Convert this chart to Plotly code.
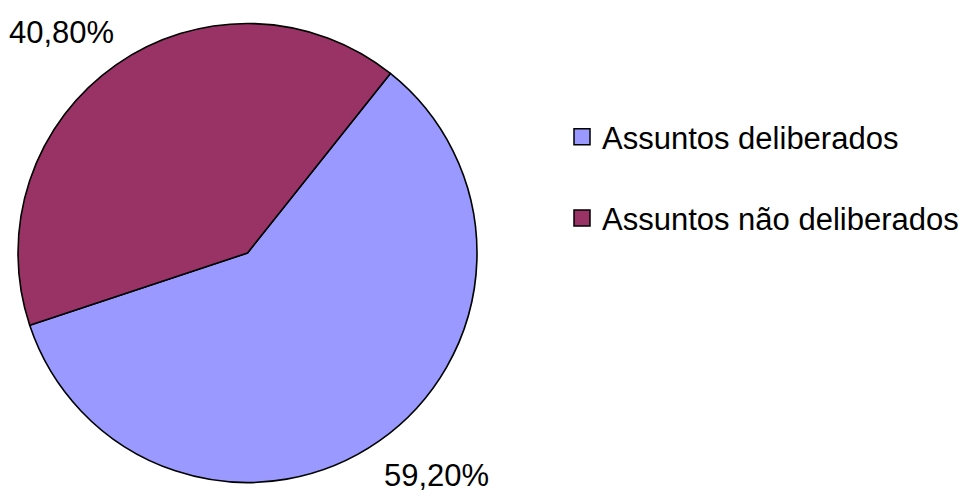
import plotly.graph_objects as go

labels = ["Assuntos deliberados", "Assuntos não deliberados"]
values = [59.2, 40.8]
colors = ["#9999FF", "#993366"]
label_pos = [(436.5, 475.5), (61, 32)]  # pixel centres of the percentage labels

W, H = 964, 491
FONT = "Liberation Sans, Arial, sans-serif"

fig = go.Figure()
fig.add_trace(go.Pie(
    labels=labels, values=values, sort=False, direction="clockwise",
    rotation=38.5,
    marker=dict(colors=colors, line=dict(color="black", width=1.6)),
    textinfo="none", hoverinfo="skip", showlegend=False,
    domain=dict(x=[18 / W, 477 / W], y=[(H - 482.5) / H, (H - 23.5) / H]),
))

for i, (lab, col) in enumerate(zip(labels, colors)):
    fig.add_trace(go.Scatter(
        x=[None], y=[None], mode="markers", name=lab, legendgroup=str(i),
        marker=dict(symbol="square", size=16, color=col, line=dict(color="black", width=1.5)),
        hoverinfo="skip",
    ))

for v, (px, py) in zip(values, label_pos):
    fig.add_annotation(
        x=px / W, y=1 - py / H, xref="paper", yref="paper",
        text=f"{v:.2f}%".replace(".", ","), showarrow=False,
        font=dict(family=FONT, size=31, color="black"),
        xanchor="center", yanchor="middle",
    )

fig.update_layout(
    width=W, height=H, margin=dict(l=0, r=0, t=0, b=0),
    paper_bgcolor="white", plot_bgcolor="white",
    xaxis=dict(visible=False), yaxis=dict(visible=False),
    legend=dict(x=562 / W, y=1 - 110 / H, xanchor="left", yanchor="top",
                font=dict(family=FONT, size=31, color="black"),
                tracegroupgap=38, itemsizing="trace"),
)

fig.write_html("out.html", config={"displayModeBar": False},
               post_script="document.body.style.margin='0';document.body.style.overflow='hidden';")
